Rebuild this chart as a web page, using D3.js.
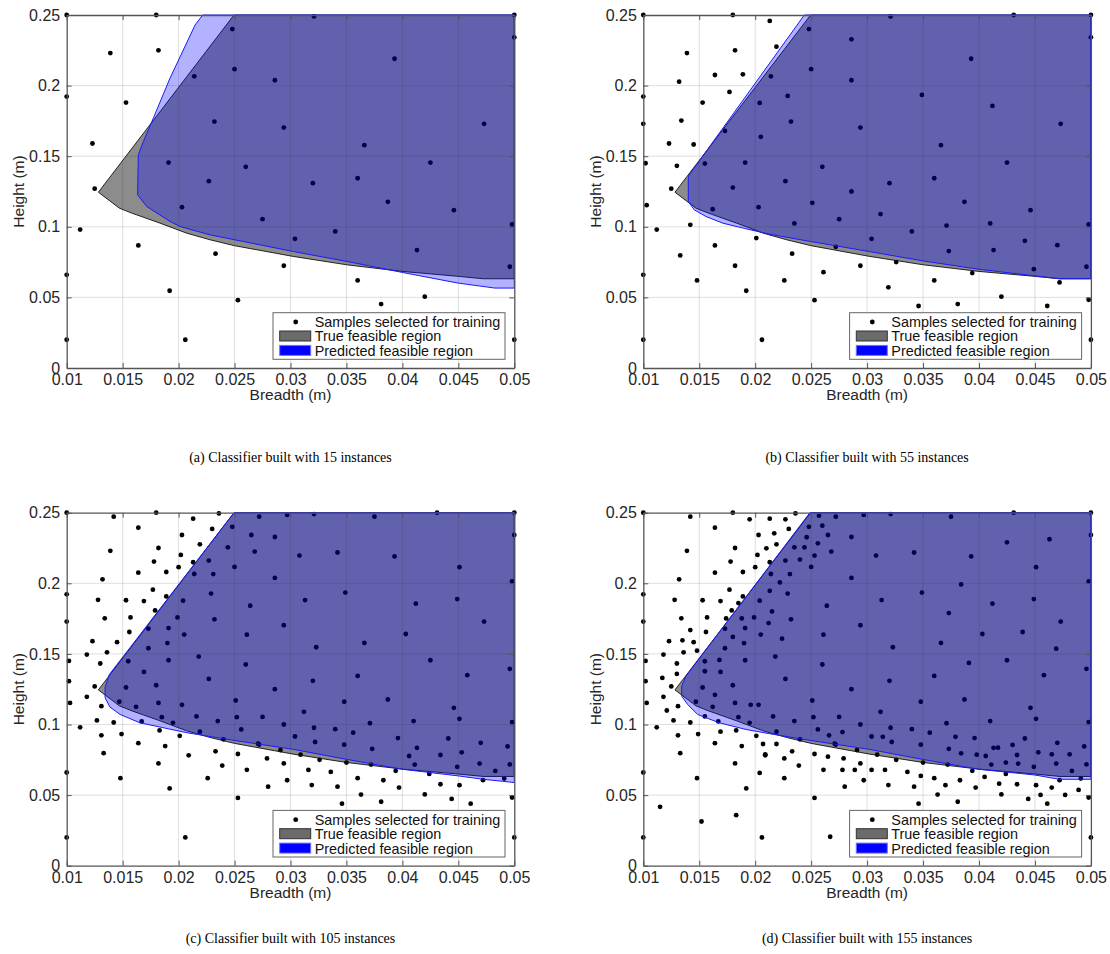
<!DOCTYPE html>
<html>
<head>
<meta charset="utf-8">
<script src="https://cdn.jsdelivr.net/npm/d3@7"></script>
<style>
  body { margin: 0; background: #fff; }
  text { font-family: "Liberation Sans", Arial, sans-serif; }
</style>
</head>
<body>
<div id="chart"></div>
<script>

// axis ticks
var xTicks = [0.01, 0.015, 0.02, 0.025, 0.03, 0.035, 0.04, 0.045, 0.05];
var yTicks = [0, 0.05, 0.1, 0.15, 0.2, 0.25];
var xTickLabels = ["0.01", "0.015", "0.02", "0.025", "0.03", "0.035", "0.04", "0.045", "0.05"];
var yTickLabels = ["0", "0.05", "0.1", "0.15", "0.2", "0.25"];

var captions = [
    "(a) Classifier built with 15 instances",
    "(b) Classifier built with 55 instances",
    "(c) Classifier built with 105 instances",
    "(d) Classifier built with 155 instances"
];

var legendLabels = ["Samples selected for training", "True feasible region", "Predicted feasible region"];

// true feasible region (same in every panel), [breadth, height]
var trueRegion = [
    [0.02495, 0.25], [0.01283, 0.1245], [0.01471, 0.1132], [0.01581, 0.1097], [0.01834, 0.1026],
    [0.02072, 0.0955], [0.02281, 0.0908], [0.02501, 0.0866], [0.03025, 0.0790], [0.03502, 0.0731],
    [0.03999, 0.0684], [0.045, 0.0649], [0.04723, 0.0632], [0.05, 0.0632], [0.05, 0.25]
];

// predicted feasible regions
var predA = [
    [0.02215, 0.25], [0.02147, 0.2429], [0.01923, 0.2052], [0.01774, 0.1769], [0.01685, 0.1604],
    [0.0164, 0.1509], [0.01634, 0.1226], [0.01715, 0.1144], [0.01923, 0.1038], [0.02013, 0.1002],
    [0.02281, 0.0943], [0.02501, 0.0908], [0.03025, 0.0825], [0.03502, 0.0755], [0.03999, 0.0677],
    [0.045, 0.0601], [0.04827, 0.0566], [0.05, 0.0566], [0.05, 0.25]
];
var predB = [
    [0.02439, 0.25], [0.01411, 0.1368], [0.01402, 0.1344], [0.01402, 0.1179], [0.01456, 0.1120],
    [0.0156, 0.1073], [0.01709, 0.1026], [0.01917, 0.0986], [0.02126, 0.0948], [0.02495, 0.0896],
    [0.03019, 0.0825], [0.03496, 0.0759], [0.03993, 0.0700], [0.04494, 0.0653], [0.04717, 0.0632],
    [0.05, 0.0632], [0.05, 0.25]
];
var predC = [
    [0.02495, 0.25], [0.01381, 0.1354], [0.01343, 0.1264], [0.01343, 0.1189], [0.01387, 0.1123],
    [0.01477, 0.1071], [0.01655, 0.1012], [0.01834, 0.0982], [0.02072, 0.0942], [0.02501, 0.0887],
    [0.03025, 0.0824], [0.03502, 0.0753], [0.03999, 0.0683], [0.045, 0.0636], [0.04723, 0.0612],
    [0.05, 0.0589], [0.05, 0.25]
];
var predD = [
    [0.02489, 0.25], [0.01381, 0.1342], [0.01343, 0.1271], [0.01343, 0.1201], [0.01396, 0.1142],
    [0.01485, 0.1071], [0.01679, 0.1012], [0.01917, 0.0965], [0.02126, 0.0935], [0.02495, 0.0887],
    [0.03019, 0.0824], [0.03496, 0.0753], [0.03993, 0.0683], [0.04494, 0.0643], [0.04717, 0.0612],
    [0.05, 0.0612], [0.05, 0.25]
];

// training samples: panel (a) set, then points added for (b), (c), (d)
var samplesA = [
    [0.010, 0.250], [0.0180, 0.250], [0.0139, 0.223], [0.0182, 0.225], [0.010, 0.1922], [0.0153, 0.188],
    [0.0123, 0.159], [0.0125, 0.127], [0.0112, 0.098], [0.0164, 0.0868], [0.0233, 0.081], [0.0294, 0.0724],
    [0.0360, 0.062], [0.010, 0.066], [0.0192, 0.0547], [0.0253, 0.048], [0.0381, 0.0453], [0.0420, 0.0505],
    [0.010, 0.020], [0.0206, 0.020], [0.050, 0.020], [0.0321, 0.249], [0.050, 0.250], [0.0248, 0.240],
    [0.050, 0.2342], [0.0393, 0.219], [0.0250, 0.2116], [0.0214, 0.2066], [0.0286, 0.2038], [0.0232, 0.1745],
    [0.0294, 0.1703], [0.0473, 0.1729], [0.0366, 0.1578], [0.0191, 0.1455], [0.0260, 0.1425], [0.0425, 0.1455],
    [0.0227, 0.1323], [0.0320, 0.1309], [0.0360, 0.1344], [0.0387, 0.1177], [0.0203, 0.1139], [0.0446, 0.1118],
    [0.0275, 0.1054], [0.0498, 0.1017], [0.0304, 0.0915], [0.0340, 0.0967], [0.0413, 0.0835], [0.0496, 0.0717]
];
var addedB = [
    [0.0213, 0.2458], [0.0431, 0.25], [0.0286, 0.2328], [0.0219, 0.2276], [0.0132, 0.2028], [0.0164, 0.2075],
    [0.0189, 0.2080], [0.0177, 0.1955], [0.0229, 0.1927], [0.0349, 0.1934], [0.0412, 0.1856], [0.0204, 0.1877],
    [0.010, 0.1729], [0.0134, 0.1752], [0.0205, 0.1637], [0.0173, 0.1679], [0.0145, 0.1583], [0.0102, 0.1450],
    [0.0130, 0.1432], [0.0155, 0.1448], [0.0180, 0.1278], [0.0286, 0.1250], [0.0103, 0.1153], [0.0162, 0.1125],
    [0.0251, 0.1170], [0.0142, 0.1014], [0.0235, 0.1024], [0.0312, 0.1090], [0.0371, 0.1009], [0.0410, 0.1024],
    [0.0201, 0.0920], [0.0441, 0.0901], [0.0470, 0.0870], [0.0272, 0.0858], [0.0373, 0.0828], [0.0133, 0.0797],
    [0.0182, 0.0724], [0.0326, 0.0750], [0.0449, 0.0700], [0.0261, 0.0679], [0.0394, 0.0672], [0.0148, 0.0620],
    [0.0226, 0.0620], [0.0472, 0.0606], [0.0319, 0.0571], [0.0498, 0.0483], [0.0346, 0.0439], [0.0461, 0.0439]
];
var addedC = [
    [0.0142, 0.2472], [0.0236, 0.2495], [0.0272, 0.2472], [0.0297, 0.2484], [0.0375, 0.2472], [0.0164, 0.2394],
    [0.0230, 0.2385], [0.0203, 0.2342], [0.0265, 0.2342], [0.0244, 0.2255], [0.0268, 0.2225], [0.0308, 0.2196],
    [0.0342, 0.2218], [0.0178, 0.2154], [0.0202, 0.2201], [0.0200, 0.2114], [0.0213, 0.2149], [0.0227, 0.2161],
    [0.0451, 0.2114], [0.0231, 0.2065], [0.0498, 0.2013], [0.0128, 0.1883], [0.0169, 0.1874], [0.0189, 0.1907],
    [0.0264, 0.1841], [0.0313, 0.1881], [0.0449, 0.1888], [0.0157, 0.1758], [0.0179, 0.1808], [0.0199, 0.1758],
    [0.0156, 0.1655], [0.0191, 0.1683], [0.0261, 0.1636], [0.0403, 0.1641], [0.0173, 0.1540], [0.0190, 0.1577],
    [0.0323, 0.1547], [0.0118, 0.1495], [0.0136, 0.1511], [0.0218, 0.1481], [0.0102, 0.1307], [0.0169, 0.1372],
    [0.0458, 0.1349], [0.0496, 0.1394], [0.0118, 0.1196], [0.0153, 0.1262], [0.0131, 0.1130], [0.0147, 0.1161],
    [0.0182, 0.1153], [0.0348, 0.1161], [0.0127, 0.1029], [0.0167, 0.1022], [0.0185, 0.1052], [0.0216, 0.1057],
    [0.0252, 0.1052], [0.0195, 0.1012], [0.0219, 0.0949], [0.0256, 0.0965], [0.0294, 0.1000], [0.0321, 0.0977],
    [0.0356, 0.0942], [0.0451, 0.1040], [0.0131, 0.0923], [0.0149, 0.0932], [0.0183, 0.0958], [0.0396, 0.0904],
    [0.0188, 0.0847], [0.0240, 0.0895], [0.0271, 0.0864], [0.0322, 0.0876], [0.0348, 0.0857], [0.0494, 0.0845],
    [0.0209, 0.0782], [0.0253, 0.0791], [0.0291, 0.0819], [0.0309, 0.0786], [0.0406, 0.0777], [0.0434, 0.0784],
    [0.0453, 0.0803], [0.0239, 0.0709], [0.0279, 0.0760], [0.0350, 0.0730], [0.0372, 0.0716], [0.0411, 0.0716],
    [0.0469, 0.0723], [0.0316, 0.0678], [0.0336, 0.0664], [0.0424, 0.0650], [0.0483, 0.0671], [0.0297, 0.0605],
    [0.0383, 0.0605], [0.0491, 0.0617], [0.0280, 0.0560], [0.0342, 0.0560], [0.0397, 0.0553], [0.0434, 0.0577],
    [0.0451, 0.0570], [0.0363, 0.0504], [0.0444, 0.0473]
];
var addedD = [
    [0.0195, 0.2453], [0.0227, 0.2453], [0.0257, 0.2479], [0.0260, 0.2408], [0.0217, 0.2354], [0.0246, 0.2326],
    [0.0425, 0.2290], [0.0463, 0.2312], [0.0210, 0.2248], [0.0235, 0.2255], [0.0256, 0.2283], [0.0240, 0.2168],
    [0.0253, 0.2196], [0.0222, 0.2006], [0.0384, 0.1992], [0.0213, 0.1947], [0.0185, 0.1860], [0.0215, 0.1801],
    [0.0212, 0.1718], [0.0174, 0.1751], [0.0188, 0.1751], [0.0373, 0.1789], [0.0142, 0.1669], [0.0180, 0.1620],
    [0.0224, 0.1608], [0.0439, 0.1655], [0.0135, 0.1596], [0.0148, 0.1523], [0.0469, 0.1537], [0.0168, 0.1457],
    [0.0391, 0.1436], [0.0117, 0.1330], [0.0130, 0.1358], [0.0155, 0.1377], [0.0121, 0.1099], [0.0164, 0.1210],
    [0.0196, 0.1139], [0.0155, 0.1057], [0.0169, 0.0949], [0.0207, 0.0862], [0.0219, 0.0862], [0.0266, 0.0923],
    [0.0278, 0.0946], [0.0314, 0.0913], [0.0379, 0.0913], [0.0430, 0.0855], [0.0481, 0.0789], [0.0209, 0.0789],
    [0.0265, 0.0772], [0.0384, 0.0796], [0.0398, 0.0786], [0.0417, 0.0836], [0.0465, 0.0789], [0.0226, 0.0760],
    [0.0278, 0.0678], [0.0289, 0.0678], [0.0304, 0.0678], [0.0435, 0.0723], [0.0204, 0.0657], [0.0405, 0.0629],
    [0.0418, 0.0581], [0.0348, 0.0636], [0.0370, 0.0570], [0.0465, 0.0553], [0.0489, 0.0537], [0.0455, 0.0501],
    [0.0477, 0.0501], [0.0115, 0.0417], [0.0183, 0.0358], [0.0152, 0.0313], [0.0267, 0.0205], [0.0424, 0.0730]
];

var samplesB = samplesA.concat(addedB);
var samplesC = samplesB.concat(addedC);
var samplesD = samplesC.concat(addedD);

var panels = [
    { samples: samplesA, pred: predA, left: 66.7, top: 15, capY: 462 },
    { samples: samplesB, pred: predB, left: 643.3, top: 15, capY: 462 },
    { samples: samplesC, pred: predC, left: 66.7, top: 512.7, capY: 943 },
    { samples: samplesD, pred: predD, left: 643.3, top: 512.7, capY: 943 }
];

var plotW = 447.6;
var plotH = 353;

var svg = d3.select("#chart")
    .append("svg")
    .attr("width", 1110)
    .attr("height", 954);

panels.forEach(function (p, i) {

    var x = d3.scaleLinear().domain([0.01, 0.05]).range([0, plotW]);
    var y = d3.scaleLinear().domain([0, 0.25]).range([plotH, 0]);

    var g = svg.append("g")
        .attr("transform", "translate(" + p.left + "," + p.top + ")");

    var region = d3.line()
        .x(function (d) { return x(d[0]); })
        .y(function (d) { return y(d[1]); })
        .curve(d3.curveLinearClosed);

    // samples first, the translucent regions sit over them
    g.selectAll("circle.sample")
        .data(p.samples)
        .enter()
        .append("circle")
        .attr("class", "sample")
        .attr("cx", function (d) { return x(d[0]); })
        .attr("cy", function (d) { return y(d[1]); })
        .attr("r", 2.4)
        .attr("fill", "#000");

    g.append("path")
        .attr("d", region(trueRegion))
        .attr("fill", "rgba(0,0,0,0.45)")
        .attr("stroke", "#111")
        .attr("stroke-width", 0.9);

    g.append("path")
        .attr("d", region(p.pred))
        .attr("fill", "rgba(0,0,255,0.3)")
        .attr("stroke", "#1a1aff")
        .attr("stroke-width", 1);

    // grid on top
    g.selectAll("line.gx")
        .data(xTicks.slice(1, -1))
        .enter()
        .append("line")
        .attr("x1", function (d) { return x(d); })
        .attr("x2", function (d) { return x(d); })
        .attr("y1", 0).attr("y2", plotH)
        .attr("stroke", "rgba(38,38,38,0.15)");
    g.selectAll("line.gy")
        .data(yTicks.slice(1, -1))
        .enter()
        .append("line")
        .attr("y1", function (d) { return y(d); })
        .attr("y2", function (d) { return y(d); })
        .attr("x1", 0).attr("x2", plotW)
        .attr("stroke", "rgba(38,38,38,0.15)");

    // axes, ticks pointing inward, box on
    var xAxis = d3.axisBottom(x).tickValues(xTicks)
        .tickFormat(function (d, j) { return xTickLabels[j]; })
        .tickSizeInner(-5).tickSizeOuter(0).tickPadding(6);
    var yAxis = d3.axisLeft(y).tickValues(yTicks)
        .tickFormat(function (d, j) { return yTickLabels[j]; })
        .tickSizeInner(-5).tickSizeOuter(0).tickPadding(6.5);
    var xTop = d3.axisTop(x).tickValues(xTicks).tickFormat("").tickSizeInner(-5).tickSizeOuter(0);
    var yRight = d3.axisRight(y).tickValues(yTicks).tickFormat("").tickSizeInner(-5).tickSizeOuter(0);

    var ax = [
        g.append("g").attr("transform", "translate(0," + plotH + ")").call(xAxis),
        g.append("g").call(yAxis),
        g.append("g").call(xTop),
        g.append("g").attr("transform", "translate(" + plotW + ",0)").call(yRight)
    ];
    ax.forEach(function (a) {
        a.selectAll("path.domain").attr("stroke", "#555").attr("stroke-width", 1.3);
        a.selectAll(".tick line").attr("stroke", "#555");
        a.selectAll(".tick text")
            .attr("fill", "#262626")
            .style("font-size", "16px")
            .style("font-family", "'Liberation Sans', Arial, sans-serif");
    });

    g.append("text")
        .attr("x", plotW / 2)
        .attr("y", plotH + 32)
        .attr("text-anchor", "middle")
        .attr("fill", "#262626")
        .style("font-size", "15.5px")
        .text("Breadth (m)");

    g.append("text")
        .attr("transform", "translate(" + (-42.5) + "," + (plotH / 2) + ") rotate(-90)")
        .attr("text-anchor", "middle")
        .attr("fill", "#262626")
        .style("font-size", "15.5px")
        .text("Height (m)");

    // legend, bottom right
    var lw = 232, lh = 46.6;
    var lg = g.append("g")
        .attr("transform", "translate(" + (plotW - 9.3 - lw) + "," + (plotH - 8.7 - lh) + ")");
    lg.append("rect")
        .attr("width", lw).attr("height", lh)
        .attr("fill", "#fff")
        .attr("stroke", "#666")
        .attr("stroke-width", 1);
    lg.append("circle")
        .attr("cx", 22.7).attr("cy", 9.3).attr("r", 2.4).attr("fill", "#000");
    lg.append("rect")
        .attr("x", 6.7).attr("y", 18.3).attr("width", 31).attr("height", 10)
        .attr("fill", "#6b6b6b").attr("stroke", "#333").attr("stroke-width", 1);
    lg.append("rect")
        .attr("x", 6.7).attr("y", 32.7).attr("width", 31).attr("height", 10)
        .attr("fill", "#0000ff").attr("stroke", "#6f6fff").attr("stroke-width", 1);
    lg.selectAll("text.lab")
        .data(legendLabels)
        .enter()
        .append("text")
        .attr("x", 41.7)
        .attr("y", function (d, j) { return 14.3 + j * 14.5; })
        .attr("fill", "#111")
        .style("font-size", "14.4px")
        .text(function (d) { return d; });

    // caption under the plot
    svg.append("text")
        .attr("x", p.left + plotW / 2)
        .attr("y", p.capY)
        .attr("text-anchor", "middle")
        .attr("fill", "#000")
        .style("font-family", "'Liberation Serif', 'DejaVu Serif', serif")
        .style("font-size", "14px")
        .text(captions[i]);
});

</script>
</body>
</html>
